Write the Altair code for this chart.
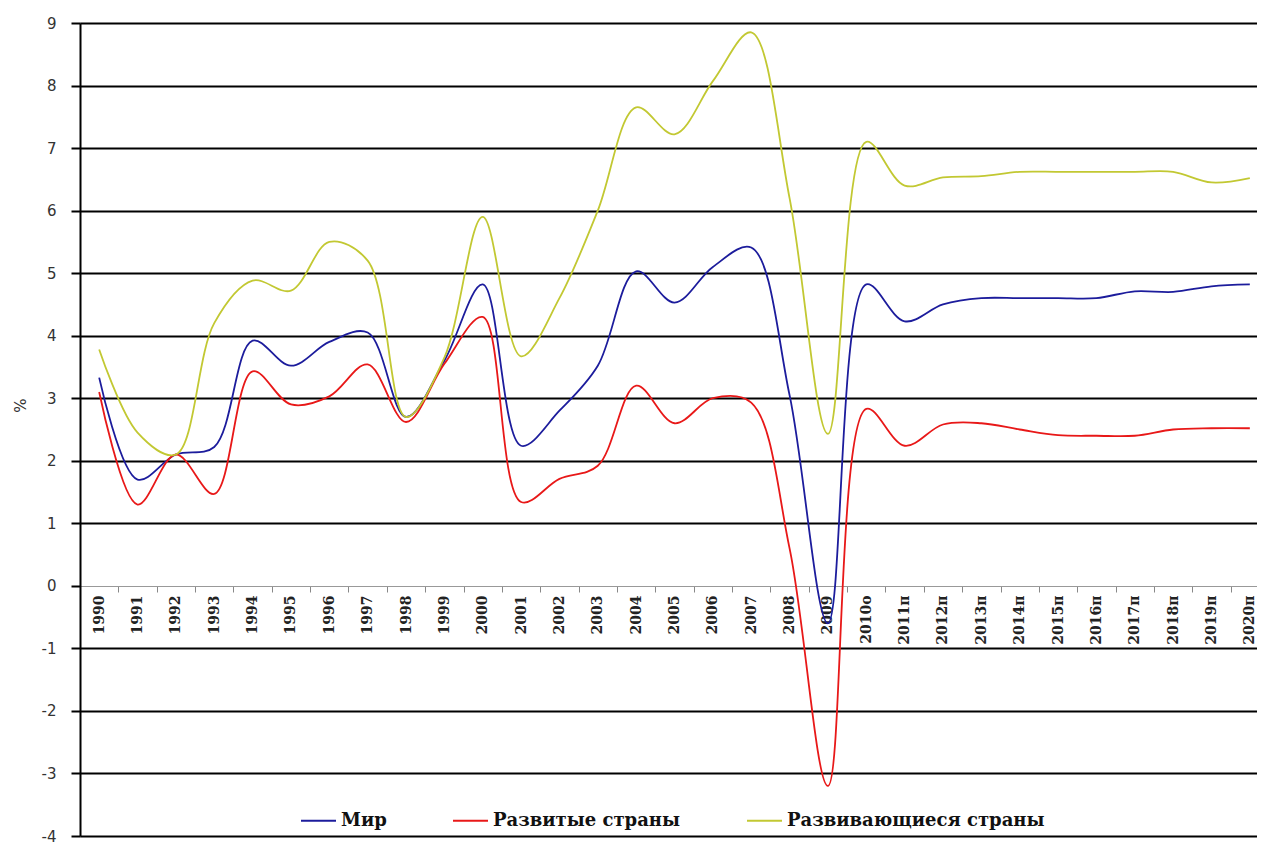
import altair as alt
import pandas as pd

labels = ["1990", "1991", "1992", "1993", "1994", "1995", "1996", "1997", "1998", "1999",
          "2000", "2001", "2002", "2003", "2004", "2005", "2006", "2007", "2008", "2009",
          "2010о", "2011п", "2012п", "2013п", "2014п", "2015п", "2016п", "2017п", "2018п",
          "2019п", "2020п"]

world = [3.33, 1.7, 2.1, 2.22, 3.92, 3.52, 3.9, 4.05, 2.7, 3.6,
         4.82, 2.24, 2.8, 3.52, 5.03, 4.53, 5.1, 5.41, 3.05, -0.6,
         4.82, 4.23, 4.5, 4.6, 4.6, 4.6, 4.6, 4.71, 4.7, 4.79, 4.82]

developed = [3.1, 1.3, 2.1, 1.47, 3.43, 2.9, 3.03, 3.54, 2.62, 3.55,
             4.3, 1.34, 1.71, 1.92, 3.2, 2.6, 3.0, 2.93, 0.6, -3.2,
             2.83, 2.24, 2.58, 2.6, 2.5, 2.41, 2.4, 2.4, 2.5, 2.52, 2.52]

developing = [3.78, 2.45, 2.1, 4.2, 4.88, 4.72, 5.5, 5.2, 2.7, 3.65,
              5.9, 3.67, 4.6, 6.0, 7.65, 7.22, 8.07, 8.85, 6.2, 2.43,
              7.1, 6.4, 6.53, 6.55, 6.62, 6.62, 6.62, 6.62, 6.62, 6.45, 6.52]

series_names = ["Мир", "Развитые страны", "Развивающиеся страны"]
series_colors = ["#1c1c9c", "#e81818", "#c2c832"]
y_ticks = list(range(-4, 10))

rows = []
for name, vals in zip(series_names, [world, developed, developing]):
    for lab, v in zip(labels, vals):
        rows.append({"year": lab, "value": v, "series": name})
df = pd.DataFrame(rows)

W = 1177
H = 813

chart = alt.Chart(df).mark_line(
    interpolate="catmull-rom", strokeWidth=1.8, clip=False
).encode(
    x=alt.X("year:O", sort=labels, title=None,
            scale=alt.Scale(type="band", range=[0, 1189], paddingInner=0, paddingOuter=0),
            axis=alt.Axis(orient="bottom", offset=-250, labelAngle=270, tickBand="extent",
                          labelFont="DejaVu Serif", labelFontWeight="bold", labelFontSize=14,
                          labelColor="#222", labelPadding=3, tickSize=6, tickColor="#888",
                          domainColor="#999", domainWidth=1, grid=False, labelOverlap=False)),
    y=alt.Y("value:Q", title="%",
            scale=alt.Scale(domain=[-4, 9], nice=False, zero=False),
            axis=alt.Axis(values=y_ticks, labelExpr="'' + datum.value", grid=True,
                          gridColor={"condition": {"test": "datum.value === 0", "value": "#aaaaaa"},
                                     "value": "#000000"},
                          gridWidth={"condition": {"test": "datum.value === 0", "value": 1},
                                     "value": 2},
                          domainColor="#000", domainWidth=2, tickColor="#000", tickWidth=2,
                          tickSize=9, labelPadding=15, labelFont="DejaVu Sans",
                          labelFontSize=15, labelColor="#333",
                          titleFont="DejaVu Sans", titleFontSize=15, titleFontWeight="normal",
                          titleColor="#333", titleAngle=270, titleBaseline="middle",
                          titleAlign="center", titleX=-60, titleY=382)),
    color=alt.Color("series:N", sort=series_names,
                    scale=alt.Scale(domain=series_names, range=series_colors),
                    legend=alt.Legend(title=None, orient="none", direction="horizontal",
                                      legendX=220, legendY=779, symbolType="stroke",
                                      symbolSize=1225, symbolStrokeWidth=2,
                                      labelFont="DejaVu Serif", labelFontWeight="bold",
                                      labelFontSize=18, labelColor="#111", labelOffset=4,
                                      columnPadding=62, labelLimit=400)),
).properties(
    width=W, height=H,
    autosize=alt.AutoSizeParams(type="none"),
    padding={"left": 72, "top": 15, "right": 0, "bottom": 10},
).configure_view(stroke=None).configure(background="white")

chart.save("out.html", embed_options={"renderer": "svg", "actions": False})
